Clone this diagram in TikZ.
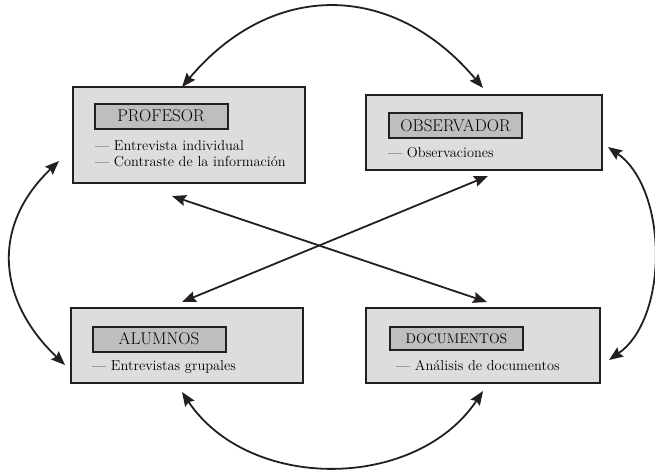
\documentclass[tikz,border=0pt]{standalone}
\usepackage{tikz}
\usetikzlibrary{arrows.meta,calc}

\definecolor{ink}{HTML}{231F20}
\definecolor{cardgray}{HTML}{DCDDDE}
\definecolor{taggray}{HTML}{BCBEC0}

\tikzstyle{card}=[draw=ink, fill=cardgray, line width=2pt, inner sep=0pt]
\tikzstyle{tag}=[draw=ink, fill=taggray, line width=2pt, inner sep=0pt,
	minimum width=133pt, minimum height=25pt, font=\fontsize{17}{17}\selectfont]
\tikzstyle{item}=[anchor=base west, inner sep=0pt, font=\fontsize{14.4}{17}\selectfont]
\tikzstyle{link}=[draw=ink, line width=1.8pt,
	arrows={Stealth[length=14pt,width=11pt,inset=2pt]-Stealth[length=14pt,width=11pt,inset=2pt]}]

\begin{document}
\begin{tikzpicture}[x=1pt, y=-1pt]
	% Background, frame
	\path[use as bounding box, fill=white] (0,0) rectangle (655,469);

	% Boxes
	\node[card, minimum width=232pt, minimum height=96pt] (prof) at (189,135) {};
	\node[card, minimum width=236pt, minimum height=75pt] (obs) at (484,132.5) {};
	\node[card, minimum width=232pt, minimum height=75pt] (alum) at (187,345.5) {};
	\node[card, minimum width=234pt, minimum height=75pt] (doc) at (483,345.5) {};

	% Titles
	\node[tag] (profT) at (161,116) {PROFESOR};
	\node[tag] (obsT) at (455.5,125.5) {OBSERVADOR};
	\node[tag] (alumT) at (159,339) {ALUMNOS};
	\node[tag, minimum height=23pt, font=\fontsize{14}{14}\selectfont] (docT) at (456.5,338.5) {DOCUMENTOS};

	% Items
	\node[item] (prof1) at (95,150) {— Entrevista individual};
	\node[item] (prof2) at (95,166) {— Contraste de la información};
	\node[item] (obs1) at (388,157) {— Observaciones};
	\node[item] (alum1) at (92,370) {— Entrevistas grupales};
	\node[item] (doc1) at (396,370) {— Análisis de documentos};

	% Arrows
	\draw[link] ($(prof.north)+(-7,1)$) .. controls +(90,-107) and +(-90,-107) .. ($(obs.north)+(-1,-6)$);
	\draw[link] ($(alum.south)+(-5,8)$) .. controls +(67,100) and +(-67,100) .. ($(doc.south)+(0,7)$);
	\draw[link] ($(prof.south west)+(-13,-23)$) .. controls +(-68,65) and +(-68,-65) .. ($(alum.west)+(-5,19.5)$);
	\draw[link] ($(obs.east)+(5,14.5)$) .. controls +(60,42) and +(60,-42) .. ($(doc.east)+(8,14.5)$);
	\draw[link] ($(prof.south)+(-17,12)$) -- ($(doc.north)+(4,-5)$);
	\draw[link] ($(obs.south)+(4,5)$) -- ($(alum.north)+(-5,-5)$);
\end{tikzpicture}
\end{document}
